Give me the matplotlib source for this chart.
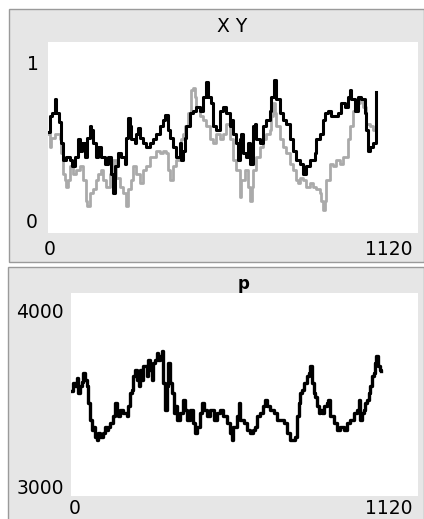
import matplotlib
matplotlib.use("Agg")
import matplotlib.pyplot as plt
from matplotlib.patches import Rectangle

# ---- data ----
xy_ticks_x = [0, 5, 13, 20, 25, 33, 40, 45, 50, 55, 66, 74, 81, 91, 96, 104, 111, 118, 126, 131,
              136, 146, 151, 161, 172, 182, 192, 197, 202, 212, 222, 232, 237, 242, 247, 252, 262,
              267, 272, 277, 288, 298, 308, 318, 328, 338, 348, 355, 363, 370, 378, 388, 399, 404,
              409, 414, 419, 429, 439, 449, 459, 469, 477, 484, 494, 499, 510, 520, 530, 540, 550,
              555, 560, 570, 575, 580, 585, 590, 600, 605, 610, 621, 626, 631, 641, 651, 661, 671,
              676, 683, 691, 701, 711, 721, 732, 742, 752, 762, 772, 782, 792, 802, 807, 812, 822,
              832, 838, 848, 858, 868, 878, 888, 898, 908, 913, 918, 928, 938, 948, 959, 964, 969,
              974, 984, 992, 994]
x_values = [0.53, 0.61, 0.63, 0.70, 0.63, 0.58, 0.47, 0.38, 0.38, 0.40, 0.38, 0.35, 0.40, 0.49, 0.43,
            0.47, 0.40, 0.50, 0.56, 0.54, 0.47, 0.40, 0.45, 0.40, 0.36, 0.40, 0.31, 0.21, 0.35, 0.42,
            0.40, 0.36, 0.50, 0.60, 0.56, 0.49, 0.47, 0.52, 0.55, 0.50, 0.47, 0.45, 0.47, 0.49, 0.52,
            0.56, 0.59, 0.62, 0.54, 0.50, 0.45, 0.40, 0.47, 0.38, 0.43, 0.50, 0.56, 0.63, 0.64, 0.66,
            0.64, 0.71, 0.79, 0.71, 0.68, 0.56, 0.54, 0.64, 0.66, 0.63, 0.56, 0.59, 0.52, 0.47, 0.38,
            0.49, 0.52, 0.42, 0.40, 0.47, 0.36, 0.56, 0.57, 0.49, 0.47, 0.56, 0.59, 0.64, 0.71, 0.80,
            0.70, 0.63, 0.59, 0.57, 0.49, 0.43, 0.38, 0.36, 0.31, 0.35, 0.38, 0.38, 0.42, 0.49, 0.52,
            0.59, 0.63, 0.64, 0.61, 0.61, 0.63, 0.68, 0.66, 0.71, 0.75, 0.70, 0.64, 0.71, 0.70, 0.63,
            0.54, 0.43, 0.45, 0.47, 0.52, 0.74]

y_ticks_x = [0, 5, 10, 20, 30, 35, 40, 45, 50, 55, 61, 66, 76, 86, 96, 106, 114, 118, 126, 136,
             146, 151, 161, 166, 177, 187, 197, 207, 217, 227, 235, 242, 252, 257, 267, 277, 288,
             298, 308, 318, 328, 338, 348, 358, 363, 368, 378, 388, 399, 404, 409, 414, 424, 434,
             439, 444, 449, 459, 469, 479, 489, 499, 510, 520, 530, 540, 550, 560, 570, 580, 585,
             595, 605, 610, 616, 621, 631, 641, 651, 661, 671, 676, 681, 686, 691, 701, 711, 721,
             732, 742, 752, 757, 762, 772, 782, 792, 802, 812, 822, 827, 832, 838, 843, 853, 863,
             873, 883, 893, 903, 908, 913, 923, 933, 943, 954, 964, 974, 984, 994]
y_values = [0.52, 0.45, 0.50, 0.52, 0.52, 0.49, 0.42, 0.31, 0.28, 0.24, 0.28, 0.35, 0.31, 0.33, 0.35,
            0.28, 0.17, 0.14, 0.21, 0.23, 0.28, 0.31, 0.33, 0.28, 0.24, 0.31, 0.38, 0.29, 0.24, 0.21,
            0.14, 0.23, 0.28, 0.35, 0.31, 0.26, 0.33, 0.35, 0.40, 0.40, 0.43, 0.42, 0.43, 0.42, 0.33,
            0.28, 0.35, 0.38, 0.42, 0.49, 0.52, 0.56, 0.63, 0.75, 0.76, 0.71, 0.66, 0.61, 0.59, 0.56,
            0.49, 0.47, 0.52, 0.49, 0.52, 0.57, 0.49, 0.38, 0.33, 0.19, 0.28, 0.33, 0.24, 0.17, 0.24,
            0.33, 0.40, 0.45, 0.49, 0.52, 0.54, 0.61, 0.68, 0.63, 0.56, 0.49, 0.45, 0.42, 0.36, 0.33,
            0.28, 0.26, 0.29, 0.28, 0.24, 0.26, 0.24, 0.23, 0.21, 0.17, 0.12, 0.17, 0.28, 0.36, 0.35,
            0.38, 0.36, 0.40, 0.40, 0.49, 0.56, 0.64, 0.68, 0.70, 0.66, 0.57, 0.56, 0.54, 0.61]

p_ticks = [0, 5, 13, 18, 24, 29, 34, 40, 45, 51, 56, 61, 67, 72, 78, 83, 88, 94, 104, 110, 115, 121,
           126, 137, 142, 148, 153, 158, 169, 180, 185, 191, 196, 201, 207, 212, 218, 223, 228, 234,
           244, 250, 255, 261, 266, 271, 277, 282, 288, 293, 298, 304, 309, 314, 320, 325, 331, 336,
           341, 352, 363, 368, 374, 384, 395, 401, 406, 417, 422, 428, 438, 449, 460, 471, 481, 492,
           503, 514, 519, 524, 535, 541, 546, 557, 568, 578, 589, 595, 600, 611, 621, 627, 632, 643,
           654, 665, 675, 686, 697, 708, 718, 724, 729, 735, 740, 745, 751, 761, 767, 772, 778, 783,
           788, 794, 799, 805, 810, 815, 826, 831, 837, 848, 858, 869, 880, 891, 901, 912, 923, 928,
           934, 939, 945, 950, 955, 961, 966, 971, 977, 982, 985, 990, 996, 1000]
p_values = [3515, 3556, 3540, 3581, 3507, 3540, 3564, 3605, 3572, 3540, 3457, 3375, 3326, 3342, 3293,
            3276, 3309, 3293, 3309, 3342, 3326, 3342, 3359, 3392, 3457, 3408, 3392, 3424, 3408, 3392,
            3441, 3507, 3523, 3589, 3622, 3572, 3540, 3622, 3572, 3638, 3589, 3671, 3622, 3572, 3655,
            3671, 3704, 3671, 3688, 3712, 3556, 3424, 3540, 3655, 3556, 3507, 3408, 3441, 3375, 3408,
            3474, 3424, 3375, 3424, 3359, 3309, 3342, 3408, 3457, 3424, 3392, 3424, 3375, 3408, 3424,
            3392, 3359, 3309, 3276, 3342, 3392, 3457, 3375, 3359, 3326, 3309, 3326, 3342, 3392, 3408,
            3441, 3474, 3441, 3424, 3408, 3375, 3375, 3359, 3309, 3276, 3276, 3293, 3392, 3457, 3507,
            3523, 3556, 3589, 3605, 3638, 3556, 3507, 3490, 3441, 3408, 3424, 3408, 3441, 3457, 3474,
            3392, 3359, 3326, 3342, 3326, 3359, 3375, 3408, 3424, 3474, 3375, 3408, 3424, 3457, 3474,
            3507, 3540, 3589, 3605, 3655, 3688, 3638, 3622, 3614]

top_title = "X Y"
bottom_title = "p"
top_ylabels = ["0", "1"]
bottom_ylabels = ["3000", "4000"]
xlabels = ["0", "1120"]

W, H = 424, 519
fig = plt.figure(figsize=(W / 100, H / 100), dpi=100)
fig.patch.set_facecolor("white")

def fx(px):
    return px / W

def fy(py):
    return 1 - py / H

PANEL = "#e6e6e6"
EDGE = "#9a9a9a"

# panel backgrounds
fig.patches.append(Rectangle((fx(9), fy(262)), fx(424 - 9), (262 - 9) / H,
                             transform=fig.transFigure, facecolor=PANEL, edgecolor=EDGE,
                             linewidth=1.0, zorder=-5))
fig.patches.append(Rectangle((fx(8), fy(520)), fx(424 - 8), (520 - 267) / H,
                             transform=fig.transFigure, facecolor=PANEL, edgecolor=EDGE,
                             linewidth=1.0, zorder=-5))

FONT = "DejaVu Sans"
FS = 13.5

# top axes
ax1 = fig.add_axes([fx(48), fy(233), fx(418 - 48), (233 - 42) / H])
ax1.plot(y_ticks_x, y_values, color="#aaaaaa", linewidth=2.0, drawstyle="steps-post")
ax1.plot(xy_ticks_x, x_values, color="black", linewidth=2.2, drawstyle="steps-post")
ax1.set_xlim(0, 1120)
ax1.set_ylim(0, 1)

# bottom axes
ax2 = fig.add_axes([fx(71), fy(496), fx(418 - 71), (496 - 293) / H])
ax2.plot(p_ticks, p_values, color="black", linewidth=2.4, drawstyle="steps-post")
ax2.set_xlim(0, 1120)
ax2.set_ylim(3000, 4000)

for ax in (ax1, ax2):
    ax.set_zorder(2)
    ax.set_facecolor("white")
    ax.set_xticks([])
    ax.set_yticks([])
    for s in ax.spines.values():
        s.set_visible(False)

def t(px, py, s, size=FS):
    fig.text(fx(px), fy(py), s, ha="center", va="center", fontsize=size, family=FONT, zorder=3)

t(232, 26, top_title)
t(33, 65, top_ylabels[1])
t(32, 222, top_ylabels[0])
t(50, 250, xlabels[0])
t(389, 250, xlabels[1])

fig.text(fx(244), fy(289), bottom_title, ha="center", va="baseline", fontsize=12,
         family=FONT, fontweight="bold", zorder=3)
t(40, 313, bottom_ylabels[1])
t(40, 488, bottom_ylabels[0])
t(75, 508, xlabels[0])
t(389, 508, xlabels[1])

fig.savefig("out.png", dpi=100, facecolor="white")
